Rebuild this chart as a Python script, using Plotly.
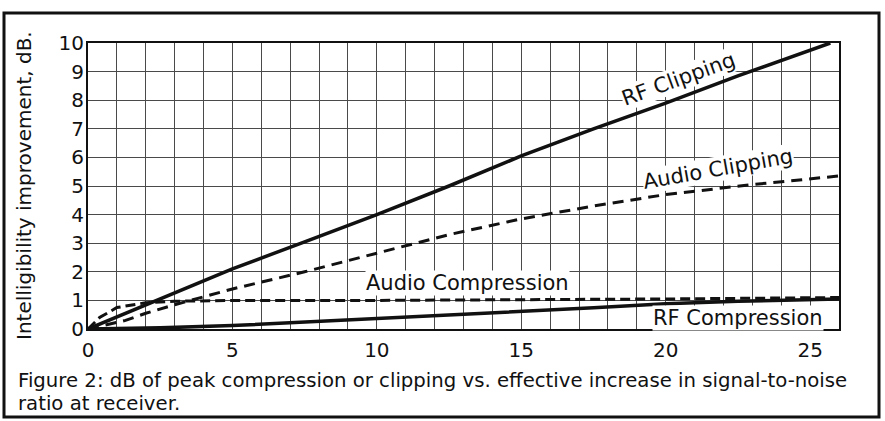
import plotly.graph_objects as go

# ---- data ----
rf_clip_x = [0, 2.5, 5, 7.5, 10, 12.5, 15, 17.5, 20, 22.5, 25.7]
rf_clip_y = [0, 1.05, 2.1, 3.05, 4.0, 5.0, 6.05, 7.0, 7.9, 8.85, 10.0]

audio_clip_x = [0, 1.3, 2, 3, 5, 7.5, 10, 12.5, 15, 17.5, 20, 23, 26]
audio_clip_y = [0, 0.3, 0.55, 0.85, 1.4, 2.0, 2.65, 3.3, 3.85, 4.3, 4.7, 5.05, 5.35]

audio_comp_x = [0, 0.4, 1, 2, 3, 5, 10, 15, 20, 26]
audio_comp_y = [0, 0.4, 0.75, 0.92, 0.97, 1.0, 1.0, 1.02, 1.05, 1.1]

rf_comp_x = [0, 2.5, 5, 7.5, 10, 12.5, 15, 17.5, 20, 22.5, 26]
rf_comp_y = [0, 0.04, 0.12, 0.24, 0.37, 0.48, 0.6, 0.74, 0.88, 0.97, 1.05]

x_ticks = [0, 5, 10, 15, 20, 25]
y_ticks = [0, 1, 2, 3, 4, 5, 6, 7, 8, 9, 10]

series_labels = ["RF Clipping", "Audio Clipping", "Audio Compression", "RF Compression"]
y_title = "Intelligibility improvement, dB."
caption_1 = "Figure 2: dB of peak compression or clipping vs. effective increase in signal-to-noise"
caption_2 = "ratio at receiver."

FONT = "DejaVu Sans"
INK = "#111111"

fig = go.Figure()
fig.add_trace(go.Scatter(x=rf_clip_x, y=rf_clip_y, mode="lines",
                         line=dict(color=INK, width=3.5), name=series_labels[0]))
fig.add_trace(go.Scatter(x=audio_clip_x, y=audio_clip_y, mode="lines",
                         line=dict(color=INK, width=3, dash="11px,7px"), name=series_labels[1]))
fig.add_trace(go.Scatter(x=audio_comp_x, y=audio_comp_y, mode="lines",
                         line=dict(color=INK, width=3, dash="10px,5px"), name=series_labels[2]))
fig.add_trace(go.Scatter(x=rf_comp_x, y=rf_comp_y, mode="lines",
                         line=dict(color=INK, width=3.5), name=series_labels[3]))

grid_col = "#4a4a4a"
fig.update_xaxes(range=[0, 26], tickvals=x_ticks, showgrid=True, gridcolor=grid_col, gridwidth=1,
                 minor=dict(dtick=1, showgrid=True, gridcolor=grid_col, gridwidth=1),
                 showline=True, linecolor=INK, linewidth=2, mirror=True, ticks="",
                 zeroline=False, tickfont=dict(family=FONT, size=20, color=INK),
                 ticklabelstandoff=2)
fig.update_yaxes(range=[0, 10], tickvals=y_ticks, showgrid=True, gridcolor=grid_col, gridwidth=1,
                 showline=True, linecolor=INK, linewidth=2, mirror=True, ticks="",
                 zeroline=False, tickfont=dict(family=FONT, size=20, color=INK),
                 ticklabelstandoff=-2)

W, H = 885, 421
L, R, T, B = 88, 46, 43, 92
pw, ph = W - L - R, H - T - B

def px(xp):
    return (xp - L) / pw

def py(yp):
    return (H - B - yp) / ph

ann = [
    dict(text=series_labels[0], x=20.45, y=8.75, textangle=-20),
    dict(text=series_labels[1], x=21.8, y=5.6, textangle=-10),
    dict(text=series_labels[2], x=13.15, y=1.6, textangle=0),
    dict(text=series_labels[3], x=22.5, y=0.38, textangle=0),
]
for a in ann:
    fig.add_annotation(xref="x", yref="y", showarrow=False, bgcolor="white",
                       font=dict(family=FONT, size=21, color=INK), borderpad=0, **a)

fig.add_annotation(xref="paper", yref="paper", x=px(24), y=py(186), text=y_title, textangle=-90,
                   showarrow=False, xanchor="center", yanchor="middle",
                   font=dict(family=FONT, size=20, color=INK))
fig.add_annotation(xref="paper", yref="paper", x=px(16), y=py(380), text=caption_1,
                   showarrow=False, xanchor="left", yanchor="middle",
                   font=dict(family=FONT, size=19.7, color=INK))
fig.add_annotation(xref="paper", yref="paper", x=px(16), y=py(403), text=caption_2,
                   showarrow=False, xanchor="left", yanchor="middle",
                   font=dict(family=FONT, size=19.7, color=INK))

fig.add_shape(type="rect", xref="paper", yref="paper", x0=px(4), x1=px(879), y0=py(417), y1=py(13),
              line=dict(color=INK, width=3), fillcolor="rgba(0,0,0,0)", layer="above")

fig.update_layout(width=W, height=H, margin=dict(l=L, r=R, t=T, b=B),
                  paper_bgcolor="white", plot_bgcolor="white", showlegend=False,
                  font=dict(family=FONT, color=INK))

fig.write_html("out.html", config={"displayModeBar": False},
               post_script="document.body.style.margin='0px';document.body.style.overflow='hidden';")
